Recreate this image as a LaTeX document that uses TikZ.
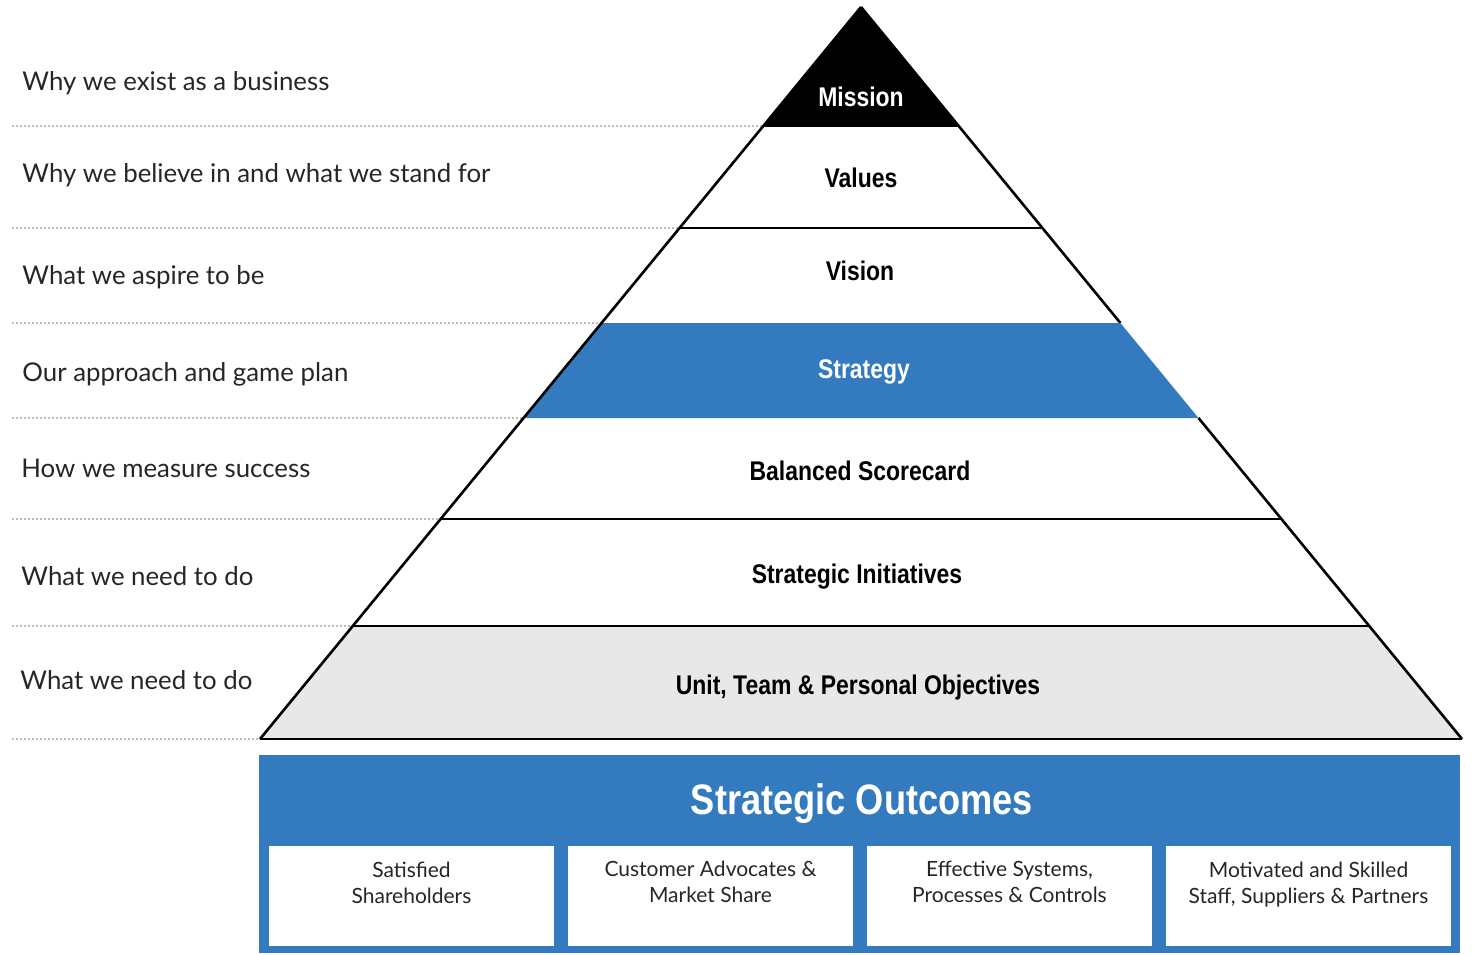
\documentclass[tikz,border=0pt]{standalone}
\usepackage{fontspec}
\setmainfont{Lato}
\newfontfamily\condb[FakeStretch=0.85]{Liberation Sans}
\definecolor{sblue}{RGB}{51,122,190}
\definecolor{lgray}{RGB}{232,232,232}
\definecolor{dotgray}{RGB}{190,190,190}
\begin{document}
\begin{tikzpicture}[x=0.5pt,y=-0.5pt,
  edge/.style={line width=1.3pt, black, line join=miter},
  guide/.style={dotgray, line width=1pt, dash pattern=on 1pt off 1pt},
  side/.style={anchor=west, inner sep=0pt, font=\fontsize{12.9}{15}\selectfont, text=black!85},
  tier/.style={inner sep=0pt, font=\condb\bfseries\fontsize{13.5}{16}\selectfont},
  outtext/.style={align=center, inner sep=0pt, font=\fontsize{10.5}{13}\selectfont, text=black!85},
  outbox/.style={fill=white}
]
\useasboundingbox (0,0) rectangle (1473,954);
% pyramid corner coordinates
\coordinate (A) at (861,7);
\coordinate (L1) at (763.3,126);  \coordinate (R1) at (958.7,126);
\coordinate (L2) at (679.6,228);  \coordinate (R2) at (1042.4,228);
\coordinate (L3) at (601.6,323);  \coordinate (R3) at (1120.4,323);
\coordinate (L4) at (523.5,418);  \coordinate (R4) at (1198.5,418);
\coordinate (L5) at (440.6,519);  \coordinate (R5) at (1281.4,519);
\coordinate (L6) at (352.8,626);  \coordinate (R6) at (1369.2,626);
\coordinate (L7) at (260,739);    \coordinate (R7) at (1462,739);
% guide start points
\coordinate (G1) at (12,126);
\coordinate (G2) at (12,228);
\coordinate (G3) at (12,323);
\coordinate (G4) at (12,418);
\coordinate (G5) at (12,519);
\coordinate (G6) at (12,626);
\coordinate (G7) at (12,739);
% dotted guides
\foreach \i in {1,...,7} \draw[guide] (G\i) -- (L\i);
% fills
\fill[black] (A) -- (L1) -- (R1) -- cycle;
\fill[lgray] (L6) -- (R6) -- (R7) -- (L7) -- cycle;
% outlines
\draw[edge] (L1) -- (R1);
\draw[edge] (L2) -- (R2);
\draw[edge] (L5) -- (R5);
\draw[edge] (L6) -- (R6);
\draw[edge] (L7) -- (R7);
\draw[edge] (A) -- (R3);
\draw[edge] (R4) -- (R7);
\fill[sblue] (L3) -- (R3) -- (R4) -- (L4) -- cycle;
\draw[edge] (A) -- (L7);
% tier labels
\node[tier, text=white] (mission) at (861,97) {Mission};
\node[tier] (values) at (861,178) {Values};
\node[tier] (vision) at (860,271) {Vision};
\node[tier, text=white] (strategy) at (864,372) {Strategy};
\node[tier] (bsc) at (860,471) {Balanced Scorecard};
\node[tier] (init) at (857,577) {Strategic Initiatives};
\node[tier] (unit) at (858,688) {Unit, Team \& Personal Objectives};
% side labels
\node[side] (s1) at (22,83) {Why we exist as a business};
\node[side] (s2) at (22,175) {Why we believe in and what we stand for};
\node[side] (s3) at (22,277) {What we aspire to be};
\node[side] (s4) at (22,374) {Our approach and game plan};
\node[side] (s5) at (21,468) {How we measure success};
\node[side] (s6) at (21,576) {What we need to do};
\node[side] (s7) at (20,680) {What we need to do};
% strategic outcomes
\fill[sblue] (259,755) rectangle (1460,953);
\node[inner sep=0pt, text=white, font=\condb\bfseries\fontsize{21.3}{25}\selectfont] (title) at (862,804) {Strategic Outcomes};
\fill[outbox] (269,846) rectangle (554,946);
\fill[outbox] (568,846) rectangle (853,946);
\fill[outbox] (867,846) rectangle (1152,946);
\fill[outbox] (1166,846) rectangle (1451,946);
\node[outtext] (o1) at (411.5,883) {Satisfied\\Shareholders};
\node[outtext] (o2) at (710.5,882) {Customer Advocates \&\\Market Share};
\node[outtext] (o3) at (1009.5,882) {Effective Systems,\\Processes \& Controls};
\node[outtext] (o4) at (1308.5,885) {Motivated and Skilled\\Staff, Suppliers \& Partners};
\end{tikzpicture}
\end{document}
